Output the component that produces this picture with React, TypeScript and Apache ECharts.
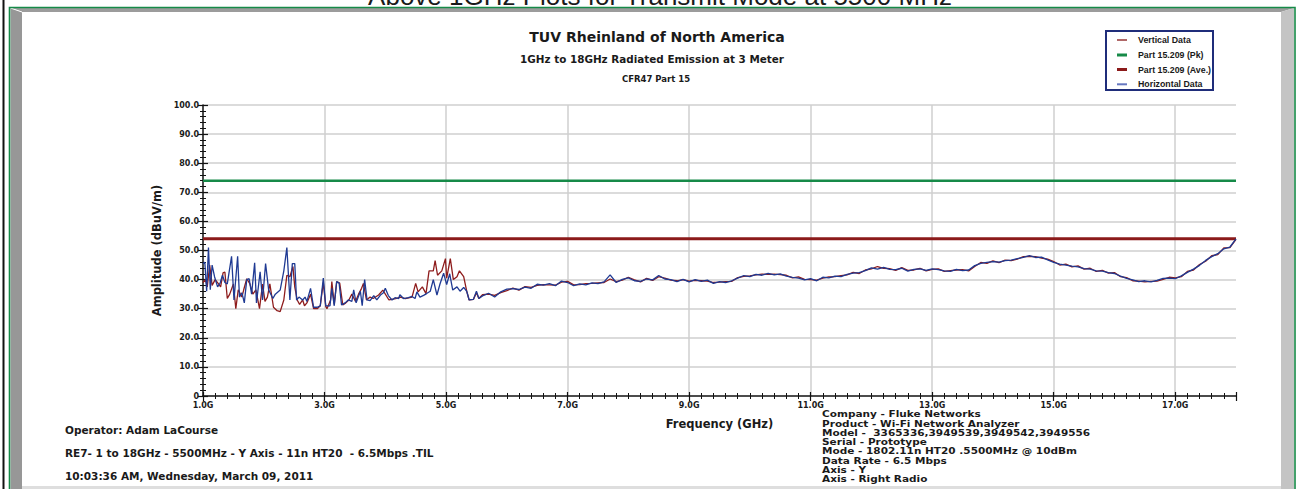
import React, { useEffect, useRef } from "react";
import * as echarts from "echarts";

// ---------- data ----------
const xTickLabels = ["1.0G", "3.0G", "5.0G", "7.0G", "9.0G", "11.0G", "13.0G", "15.0G", "17.0G"];
const yTickLabels = ["0", "10.0", "20.0", "30.0", "40.0", "50.0", "60.0", "70.0", "80.0", "90.0", "100.0"];
const freqRange = [1, 18];
const pkLimit = 74;
const aveLimit = 54;

const legendNames = ["Vertical Data", "Part 15.209 (Pk)", "Part 15.209 (Ave.)", "Horizontal Data"];

// Horizontal polarisation trace (blue)
const horizontalNoisy: [number, number][] = [
  [1.0, 45.5], [1.03, 46], [1.06, 36], [1.09, 51], [1.12, 36.5], [1.15, 45], [1.19, 41], [1.24, 37.5],
  [1.28, 38.7], [1.32, 41.5], [1.36, 39], [1.4, 38.5], [1.47, 48], [1.51, 33], [1.57, 48], [1.6, 34],
  [1.64, 35.5], [1.68, 32], [1.72, 40], [1.76, 40.3], [1.8, 35], [1.85, 45.8], [1.88, 32], [1.94, 42.7],
  [1.98, 33], [2.03, 45.5], [2.08, 36.5], [2.15, 33.5], [2.19, 35], [2.27, 36.4], [2.33, 43], [2.38, 51],
  [2.43, 33], [2.47, 45.5], [2.51, 45.5], [2.54, 33], [2.58, 34], [2.64, 33], [2.68, 34], [2.71, 32.5],
  [2.77, 37], [2.82, 30.5], [2.88, 30.5], [2.93, 31], [2.98, 40.5], [3.02, 31], [3.06, 31], [3.09, 31],
  [3.12, 37], [3.16, 31], [3.2, 39.3], [3.24, 38.8], [3.28, 31.3], [3.34, 32], [3.39, 33], [3.45, 32.5],
  [3.48, 36.5], [3.52, 32], [3.59, 36], [3.62, 31], [3.66, 40], [3.7, 33], [3.75, 32.8], [3.81, 34.5],
  [3.86, 33], [3.92, 34.7], [3.97, 35.5], [4.0, 37], [4.05, 34.5], [4.11, 33], [4.16, 33.8], [4.22, 33.5],
  [4.24, 34.8], [4.3, 33.5], [4.38, 33.8], [4.44, 34.2], [4.49, 33.5], [4.52, 35.8], [4.57, 34], [4.63, 34.6],
  [4.68, 35.2], [4.74, 36], [4.79, 40], [4.85, 34.7], [4.9, 38.5], [4.96, 42.2], [5.01, 38.3], [5.06, 42],
  [5.11, 36.4], [5.18, 37.5], [5.23, 36], [5.29, 37.3], [5.34, 36], [5.38, 33], [5.45, 33.2], [5.5, 36],
  [5.54, 33.5],
];

const horizontalSmooth: [number, number][] = [
  [5.6, 34.4], [5.7, 35.3], [5.8, 34.0], [5.9, 35.8], [6.0, 36.7], [6.1, 36.9], [6.2, 36.6], [6.3, 37.4],
  [6.4, 37.0], [6.5, 38.4], [6.6, 38.1], [6.7, 38.6], [6.8, 37.9], [6.9, 39.5], [7.0, 39.0], [7.1, 37.9],
  [7.2, 38.5], [7.3, 38.2], [7.4, 38.9], [7.5, 38.6], [7.6, 39.2], [7.7, 41.6], [7.8, 39.0], [7.9, 40.1],
  [8.0, 40.6], [8.1, 39.6], [8.2, 39.4], [8.3, 40.2], [8.4, 39.9], [8.5, 41.4], [8.6, 40.2], [8.7, 40.0],
  [8.8, 39.3], [8.9, 40.1], [9.0, 39.2], [9.1, 40.0], [9.2, 39.4], [9.3, 39.8], [9.4, 38.7], [9.5, 39.3],
  [9.6, 39.0], [9.7, 39.6], [9.8, 40.5], [9.9, 41.4], [10.0, 41.0], [10.1, 41.8], [10.2, 41.5], [10.3, 42.1],
  [10.4, 41.6], [10.5, 42.0], [10.6, 41.2], [10.7, 40.8], [10.8, 40.5], [10.9, 39.9], [11.0, 40.3], [11.1, 39.6],
  [11.2, 40.8], [11.3, 40.6], [11.4, 41.2], [11.5, 41.0], [11.6, 41.8], [11.7, 42.2], [11.8, 42.4], [11.9, 43.1],
  [12.0, 44.0], [12.1, 43.6], [12.2, 44.2], [12.3, 43.5], [12.4, 43.4], [12.5, 43.9], [12.6, 42.9], [12.7, 43.5],
  [12.8, 43.7], [12.9, 43.2], [13.0, 43.7], [13.1, 43.4], [13.2, 43.0], [13.3, 42.8], [13.4, 43.5], [13.5, 43.1],
  [13.6, 43.3], [13.7, 44.8], [13.8, 45.6], [13.9, 45.9], [14.0, 46.2], [14.1, 46.0], [14.2, 46.5], [14.3, 46.7],
  [14.4, 47.2], [14.5, 47.6], [14.6, 48.2], [14.7, 47.6], [14.8, 47.7], [14.9, 46.8], [15.0, 45.9], [15.1, 45.3],
  [15.2, 45.0], [15.3, 44.6], [15.4, 44.4], [15.5, 43.8], [15.6, 43.6], [15.7, 43.0], [15.8, 42.9], [15.9, 42.4],
  [16.0, 42.1], [16.1, 41.2], [16.2, 40.4], [16.3, 39.9], [16.4, 39.3], [16.5, 39.6], [16.6, 39.2], [16.7, 39.7],
  [16.8, 40.4], [16.9, 40.5], [17.0, 40.3], [17.1, 41.3], [17.2, 42.5], [17.3, 43.6], [17.4, 44.9], [17.5, 46.6],
  [17.6, 47.9], [17.7, 48.9], [17.8, 50.6], [17.9, 51.2], [18.0, 54.0],
];

// Vertical polarisation trace (red)
const verticalNoisy: [number, number][] = [
  [1.0, 39], [1.04, 40], [1.07, 37.5], [1.11, 45], [1.15, 38], [1.2, 40], [1.25, 38.7], [1.29, 37.5],
  [1.33, 42.3], [1.36, 42.6], [1.4, 33.5], [1.44, 35], [1.5, 38.5], [1.54, 30], [1.58, 36.5], [1.64, 34],
  [1.67, 36.5], [1.72, 40.3], [1.77, 38.6], [1.82, 35], [1.87, 36.5], [1.93, 30], [1.98, 38.5], [2.02, 32.5],
  [2.06, 34], [2.1, 38.5], [2.16, 30.5], [2.22, 29.3], [2.27, 29], [2.33, 33], [2.38, 41.5], [2.43, 41],
  [2.48, 44.5], [2.51, 37.5], [2.55, 33], [2.59, 31.5], [2.64, 33], [2.67, 31], [2.71, 32], [2.77, 35],
  [2.82, 30], [2.88, 30], [2.93, 31], [2.98, 39], [3.02, 30.8], [3.04, 30], [3.1, 33], [3.12, 39.3],
  [3.16, 31.5], [3.2, 39.3], [3.25, 38.8], [3.3, 31.3], [3.35, 32], [3.4, 33], [3.45, 35], [3.51, 32.5],
  [3.56, 35], [3.61, 37], [3.64, 38.7], [3.69, 33], [3.75, 34], [3.8, 33.5], [3.89, 34.7], [3.96, 36.4],
  [4.06, 33], [4.17, 33.5], [4.25, 34], [4.33, 33.5], [4.44, 34], [4.5, 38.7], [4.54, 35.8], [4.61, 37.5],
  [4.67, 35.2], [4.72, 43], [4.79, 43], [4.82, 46.5], [4.86, 41.5], [4.93, 43], [4.99, 47.2], [5.01, 40.5],
  [5.07, 47.2], [5.12, 40], [5.18, 41], [5.22, 43], [5.29, 41], [5.34, 36], [5.38, 33], [5.45, 33.2],
  [5.5, 35.5], [5.54, 33.5],
];

const verticalSmooth: [number, number][] = [
  [5.6, 34.8], [5.7, 35.0], [5.8, 34.6], [5.9, 35.5], [6.0, 36.2], [6.1, 37.1], [6.2, 36.4], [6.3, 37.6],
  [6.4, 37.3], [6.5, 38.0], [6.6, 38.3], [6.7, 38.2], [6.8, 38.1], [6.9, 39.1], [7.0, 39.4], [7.1, 38.2],
  [7.2, 38.3], [7.3, 38.6], [7.4, 38.7], [7.5, 38.9], [7.6, 39.0], [7.7, 40.2], [7.8, 39.3], [7.9, 39.8],
  [8.0, 40.8], [8.1, 39.9], [8.2, 39.2], [8.3, 40.4], [8.4, 39.7], [8.5, 41.0], [8.6, 40.5], [8.7, 39.8],
  [8.8, 39.6], [8.9, 40.0], [9.0, 39.5], [9.1, 39.7], [9.2, 39.6], [9.3, 39.5], [9.4, 39.0], [9.5, 39.1],
  [9.6, 39.3], [9.7, 39.4], [9.8, 40.7], [9.9, 41.1], [10.0, 41.3], [10.1, 41.6], [10.2, 41.9], [10.3, 41.8],
  [10.4, 41.9], [10.5, 41.7], [10.6, 41.5], [10.7, 40.6], [10.8, 40.9], [10.9, 40.1], [11.0, 40.0], [11.1, 39.8],
  [11.2, 40.5], [11.3, 40.9], [11.4, 41.0], [11.5, 41.4], [11.6, 41.6], [11.7, 42.5], [11.8, 42.1], [11.9, 43.3],
  [12.0, 43.7], [12.1, 44.5], [12.2, 43.9], [12.3, 43.8], [12.4, 43.2], [12.5, 44.1], [12.6, 43.2], [12.7, 43.3],
  [12.8, 43.9], [12.9, 43.0], [13.0, 43.5], [13.1, 43.7], [13.2, 42.8], [13.3, 43.1], [13.4, 43.3], [13.5, 43.4],
  [13.6, 43.0], [13.7, 44.5], [13.8, 45.9], [13.9, 45.6], [14.0, 46.4], [14.1, 45.8], [14.2, 46.7], [14.3, 46.5],
  [14.4, 47.0], [14.5, 47.9], [14.6, 48.0], [14.7, 47.9], [14.8, 47.4], [14.9, 47.0], [15.0, 46.2], [15.1, 45.0],
  [15.2, 45.3], [15.3, 44.4], [15.4, 44.7], [15.5, 43.6], [15.6, 43.9], [15.7, 42.8], [15.8, 43.2], [15.9, 42.2],
  [16.0, 42.4], [16.1, 41.0], [16.2, 40.7], [16.3, 39.6], [16.4, 39.5], [16.5, 39.2], [16.6, 39.4], [16.7, 39.5],
  [16.8, 40.1], [16.9, 40.8], [17.0, 40.6], [17.1, 41.0], [17.2, 42.8], [17.3, 43.3], [17.4, 45.2], [17.5, 46.3],
  [17.6, 48.2], [17.7, 48.6], [17.8, 50.9], [17.9, 51.0], [18.0, 53.8],
];

const headerText = "Above 1GHz Plots for Transmit Mode at 5500 MHz";
const titleLines = ["TUV Rheinland of North America", "1GHz to 18GHz Radiated Emission at 3 Meter", "CFR47 Part 15"];
const leftNotes = [
  "Operator: Adam LaCourse",
  "RE7- 1 to 18GHz - 5500MHz - Y Axis - 11n HT20  - 6.5Mbps .TIL",
  "10:03:36 AM, Wednesday, March 09, 2011",
];
const rightNotes = [
  "Company - Fluke Networks",
  "Product - Wi-Fi Network Analyzer",
  "Model -  3365336,3949539,3949542,3949556",
  "Serial - Prototype",
  "Mode - 1802.11n HT20 .5500MHz @ 10dBm",
  "Data Rate - 6.5 Mbps",
  "Axis - Y",
  "Axis - Right Radio",
];

// ---------- styles ----------
const FONT = "'DejaVu Sans', sans-serif";
const ARIAL = "'Liberation Sans', Arial, sans-serif";
const TEXT_COLOR = "#1a1a1a";
const RED = "#8e1c1c";
const BLUE = "#1f3a93";
const GREEN = "#168a48";
const AVE_RED = "#8b1a1a";
const GRID = "#cfcfcf";

function txt(
  text: string,
  x: number,
  y: number,
  size: number,
  align = "left",
  family = FONT,
  weight = "bold",
  scaleX = 1
) {
  return {
    type: "text",
    x,
    y,
    scaleX,
    silent: true,
    style: {
      text,
      fill: TEXT_COLOR,
      fontSize: size,
      fontWeight: weight,
      fontFamily: family,
      align,
      textAlign: align,
      verticalAlign: "middle",
      textVerticalAlign: "middle",
    },
  };
}

function buildOption() {
  const legendColors = ["#b06868", GREEN, AVE_RED, "#6677c0"];
  const legendThick = [2, 3, 3, 2];
  const legendY = [9, 24, 38.5, 53.3];

  const graphic: any[] = [
    // frame
    { type: "rect", shape: { x: 2.5, y: 0, width: 2, height: 489 }, style: { fill: "#111" }, silent: true },
    { type: "polygon", shape: { points: [[10.5, 8], [1294, 8], [1281, 12], [22, 12]] }, style: { fill: "#9c9c9c" }, silent: true },
    { type: "polygon", shape: { points: [[10.5, 8], [22, 12], [22, 489], [10.5, 489]] }, style: { fill: "#979797" }, silent: true },
    { type: "polygon", shape: { points: [[1294, 8], [1294, 489], [1281, 489], [1281, 12]] }, style: { fill: "#c4c4c4" }, silent: true },
    { type: "rect", shape: { x: 22, y: 486, width: 1259, height: 3 }, style: { fill: "#dedede" }, silent: true },
    { type: "line", shape: { x1: 10.5, y1: 8, x2: 22, y2: 12 }, style: { stroke: "#fff", lineWidth: 1 }, silent: true },
    { type: "rect", shape: { x: 9.5, y: 7.5, width: 1285.5, height: 490 }, style: { fill: "none", stroke: GREEN, lineWidth: 1.6 }, silent: true },
    // cut-off header above frame
    txt(headerText, 660, -4.5, 26, "center", ARIAL, "normal"),
    // titles
    txt(titleLines[0], 657, 37, 14, "center"),
    txt(titleLines[1], 652, 59, 10.4, "center"),
    txt(titleLines[2], 656, 79, 8.5, "center"),
    // legend
    {
      type: "group",
      x: 1106,
      y: 31,
      children: [
        { type: "rect", shape: { x: 0, y: 0, width: 107, height: 59 }, style: { fill: "#fff", stroke: "#1f2d7a", lineWidth: 2 } },
        ...legendNames.map((n, i) => ({
          type: "rect",
          shape: { x: 11, y: legendY[i] - legendThick[i] / 2, width: 10, height: legendThick[i] },
          style: { fill: legendColors[i] },
        })),
        ...legendNames.map((n, i) => txt(n, 32, legendY[i], 8.8, "left", ARIAL)),
      ],
    },
    // notes
    ...leftNotes.map((t, i) => txt(t, 65, 430 + i * 23, 10.5)),
    ...rightNotes.map((t, i) => txt(t, 822, 414 + i * 9.3, 9, "left", FONT, "bold", 1.17)),
  ];

  const tickLine = { color: "#111", width: 1.2 };
  const xCommon = {
    type: "value",
    min: freqRange[0],
    max: freqRange[1],
    interval: 2,
    position: "bottom",
  };
  const yCommon = { type: "value", min: 0, max: 100, interval: 10, position: "left" };

  return {
    animation: false,
    backgroundColor: "#ffffff",
    textStyle: { fontFamily: FONT },
    grid: { left: 203, right: 63, top: 105, bottom: 93, containLabel: false },
    xAxis: [
      {
        ...xCommon,
        name: "Frequency (GHz)",
        nameLocation: "middle",
        nameGap: 22,
        nameTextStyle: { fontSize: 11.5, fontWeight: "bold", color: TEXT_COLOR, fontFamily: FONT },
        axisLine: { show: true, onZero: false, lineStyle: { color: "#111", width: 1.5 } },
        axisTick: { show: true, inside: false, length: 5, lineStyle: tickLine },
        minorTick: { show: true, splitNumber: 10, length: 3, lineStyle: { color: "#111", width: 1 } },
        axisLabel: {
          show: true,
          margin: 5,
          fontSize: 8,
          fontWeight: "bold",
          color: TEXT_COLOR,
          fontFamily: FONT,
          formatter: (v: number) => xTickLabels[Math.round((v - freqRange[0]) / 2)] ?? "",
        },
        splitLine: { show: true, showMinLine: false, showMaxLine: false, lineStyle: { color: GRID, width: 1.5 } },
      },
      {
        ...xCommon,
        axisLine: { show: false, onZero: false },
        axisTick: { show: true, inside: true, length: 4, lineStyle: tickLine },
        minorTick: { show: true, splitNumber: 10, length: 3, lineStyle: { color: "#111", width: 1 } },
        axisLabel: { show: false },
        splitLine: { show: false },
      },
    ],
    yAxis: [
      {
        ...yCommon,
        name: "Amplitude (dBuV/m)",
        nameLocation: "middle",
        nameGap: 38,
        nameRotate: 90,
        nameTextStyle: { fontSize: 11.5, fontWeight: "bold", color: TEXT_COLOR, fontFamily: FONT },
        axisLine: { show: true, onZero: false, lineStyle: { color: "#111", width: 1.5 } },
        axisTick: { show: true, inside: false, length: 5, lineStyle: tickLine },
        minorTick: { show: true, splitNumber: 5, length: 3, lineStyle: { color: "#111", width: 1 } },
        axisLabel: {
          show: true,
          margin: 4,
          fontSize: 8,
          fontWeight: "bold",
          color: TEXT_COLOR,
          fontFamily: FONT,
          formatter: (v: number) => yTickLabels[Math.round(v / 10)] ?? "",
        },
        splitLine: { show: true, showMinLine: false, lineStyle: { color: GRID, width: 1.5 } },
      },
      {
        ...yCommon,
        axisLine: { show: false, onZero: false },
        axisTick: { show: true, inside: true, length: 5, lineStyle: tickLine },
        minorTick: { show: true, splitNumber: 5, length: 3, lineStyle: { color: "#111", width: 1 } },
        axisLabel: { show: false },
        splitLine: { show: false },
      },
    ],
    series: [
      {
        name: legendNames[0],
        type: "line",
        data: [...verticalNoisy, ...verticalSmooth],
        showSymbol: false,
        symbol: "none",
        lineStyle: { color: RED, width: 1.3 },
        itemStyle: { color: RED },
        z: 3,
      },
      {
        name: legendNames[1],
        type: "line",
        data: [[freqRange[0], pkLimit], [freqRange[1], pkLimit]],
        showSymbol: false,
        symbol: "none",
        lineStyle: { color: GREEN, width: 2.5 },
        itemStyle: { color: GREEN },
        z: 2,
      },
      {
        name: legendNames[2],
        type: "line",
        data: [[freqRange[0], aveLimit], [freqRange[1], aveLimit]],
        showSymbol: false,
        symbol: "none",
        lineStyle: { color: AVE_RED, width: 3 },
        itemStyle: { color: AVE_RED },
        z: 2,
      },
      {
        name: legendNames[3],
        type: "line",
        data: [...horizontalNoisy, ...horizontalSmooth],
        showSymbol: false,
        symbol: "none",
        lineStyle: { color: BLUE, width: 1.3 },
        itemStyle: { color: BLUE },
        z: 4,
      },
    ],
    graphic,
  };
}

export default function App() {
  const ref = useRef<HTMLDivElement>(null);
  useEffect(() => {
    if (!ref.current) return;
    const chart = echarts.init(ref.current, undefined, { renderer: "svg" });
    chart.setOption(buildOption() as any);
    return () => chart.dispose();
  }, []);
  return (
    <div
      ref={ref}
      style={{ position: "absolute", left: 0, top: 0, width: 1299, height: 489, background: "#fff" }}
    />
  );
}
